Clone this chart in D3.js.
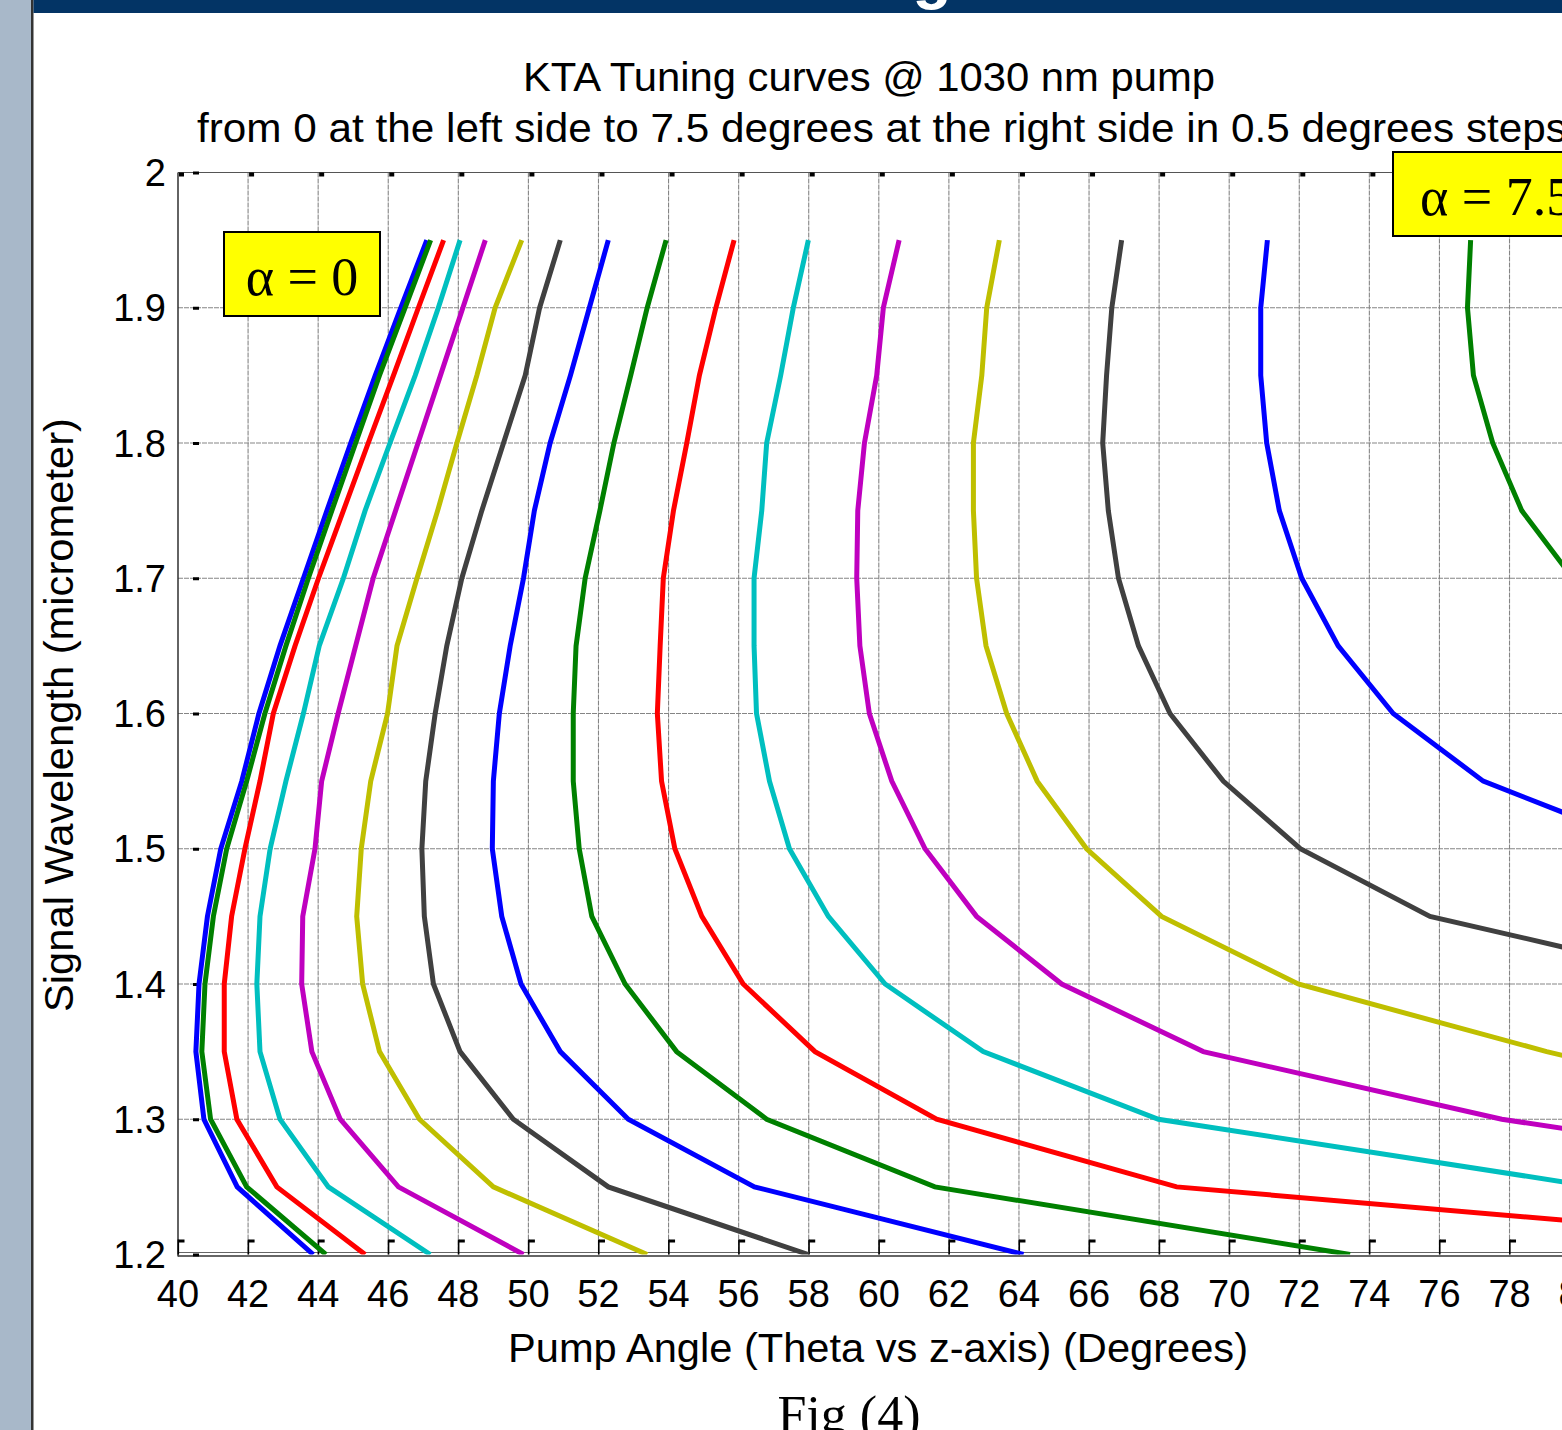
<!DOCTYPE html>
<html><head><meta charset="utf-8">
<script src="https://cdn.jsdelivr.net/npm/d3@7"></script>
<style>html,body{margin:0;padding:0;background:#fff;overflow:hidden}svg{display:block}</style>
</head><body>
<script>
// ---- data ----
const lambdaLevels = [1.95,1.90,1.85,1.80,1.75,1.70,1.65,1.60,1.55,1.50,1.45,1.40,1.35,1.30,1.25,1.20];
const alphaSteps = [0,0.5,1,1.5,2,2.5,3,3.5,4,4.5,5,5.5,6,6.5,7,7.5];
const thetaA00 = [47.10,46.36,45.63,44.93,44.25,43.58,42.91,42.31,41.82,41.22,40.84,40.60,40.51,40.74,41.69,43.86];
const thetaA05 = [47.21,46.48,45.75,45.07,44.39,43.72,43.08,42.48,41.96,41.39,41.01,40.77,40.68,40.93,41.96,44.22];
const thetaA10 = [47.58,46.86,46.15,45.43,44.72,44.01,43.34,42.72,42.34,41.91,41.53,41.32,41.32,41.68,42.82,45.34];
const thetaA15 = [48.05,47.43,46.77,46.05,45.34,44.72,44.03,43.58,43.08,42.63,42.34,42.25,42.34,42.91,44.29,47.20];
const thetaA20 = [48.77,48.13,47.49,46.85,46.21,45.57,45.07,44.57,44.10,43.91,43.56,43.53,43.82,44.63,46.29,49.86];
const thetaA25 = [49.81,49.05,48.53,47.96,47.41,46.82,46.25,45.98,45.50,45.23,45.10,45.27,45.75,46.89,49.00,53.39];
const thetaA30 = [50.91,50.32,49.91,49.29,48.67,48.10,47.67,47.34,47.07,46.96,47.03,47.29,48.05,49.57,52.28,57.99];
const thetaA35 = [52.28,51.74,51.20,50.62,50.17,49.86,49.48,49.17,49.00,48.97,49.24,49.79,50.91,52.85,56.45,64.13];
const thetaA40 = [53.93,53.39,52.92,52.44,52.04,51.62,51.36,51.28,51.28,51.45,51.81,52.76,54.23,56.80,61.60,73.45];
const thetaA45 = [55.87,55.35,54.88,54.52,54.14,53.85,53.76,53.68,53.80,54.18,54.95,56.13,58.18,61.65,68.50,90.90];
const thetaA50 = [57.99,57.56,57.20,56.80,56.66,56.44,56.44,56.51,56.88,57.45,58.56,60.18,62.98,67.98,80.45,null];
const thetaA55 = [60.58,60.13,59.94,59.59,59.40,59.37,59.46,59.73,60.37,61.32,62.79,65.22,69.26,77.78,90.60,null];
const thetaA60 = [63.44,63.08,62.94,62.70,62.70,62.79,63.06,63.65,64.52,65.93,68.07,71.97,79.06,87.30,null,null];
const thetaA65 = [66.93,66.65,66.50,66.39,66.55,66.84,67.41,68.31,69.83,72.03,75.73,84.10,null,null,null,null];
const thetaA70 = [71.09,70.90,70.90,71.07,71.43,72.07,73.11,74.68,77.25,82.17,null,null,null,null,null,null];
const thetaA75 = [76.89,76.80,76.97,77.52,78.35,79.81,null,null,null,null,null,null,null,null,null,null];
const thetaCurves = [thetaA00,thetaA05,thetaA10,thetaA15,thetaA20,thetaA25,thetaA30,thetaA35,
                     thetaA40,thetaA45,thetaA50,thetaA55,thetaA60,thetaA65,thetaA70,thetaA75];
const colorCycle = ["#0000ff","#008000","#ff0000","#00bfbf","#bf00bf","#bfbf00","#404040"];
const xTickValues = d3.range(40, 81, 2);
const yTickValues = [1.2,1.3,1.4,1.5,1.6,1.7,1.8,1.9,2.0];
const titleLine1 = "KTA Tuning curves @ 1030 nm pump";
const titleLine2 = "from 0 at the left side to 7.5 degrees at the right side in 0.5 degrees steps";
const xAxisTitle = "Pump Angle (Theta vs z-axis) (Degrees)";
const yAxisTitle = "Signal Wavelength (micrometer)";
const figCaption = "Fig (4)";
const boxLabels = ["α = 0", "α = 7.5"];

// ---- layout ----
const W = 1562, H = 1430;
const svg = d3.select("body").append("svg").attr("width", W).attr("height", H);

// slide frame
svg.append("rect").attr("x",0).attr("y",0).attr("width",31).attr("height",H).attr("fill","#a8b8c9");
svg.append("rect").attr("x",31).attr("y",0).attr("width",2.5).attr("height",H).attr("fill","#333");
svg.append("rect").attr("x",33.5).attr("y",0).attr("width",W).attr("height",13).attr("fill","#033465");
svg.append("text").attr("x",932).attr("y",-3).attr("text-anchor","middle")
  .attr("font-family","Liberation Sans, Arial, sans-serif").attr("font-size",64).attr("font-weight","bold")
  .attr("fill","#fff").text("g");

const x = d3.scaleLinear().domain([40, 80]).range([178, 178 + 40*35.04]);
const y = d3.scaleLinear().domain([1.2, 2.0]).range([1254.5, 172.5]);
const x0 = x.range()[0], x1 = x.range()[1], yTop = y(2.0), yBot = y(1.2);

svg.append("defs").append("clipPath").attr("id","plotclip")
  .append("rect").attr("x",x0).attr("y",yTop).attr("width",x1-x0).attr("height",yBot-yTop);

// grid
const grid = svg.append("g").attr("stroke","#858585").attr("stroke-width",1.1).attr("stroke-dasharray","5,1");
grid.selectAll("line.v").data(xTickValues.filter(v => v > 40)).join("line")
  .attr("x1",d=>x(d)).attr("x2",d=>x(d)).attr("y1",yTop).attr("y2",yBot);
grid.selectAll("line.h").data(yTickValues.filter(v => v > 1.2 && v < 2.0)).join("line")
  .attr("y1",d=>y(d)).attr("y2",d=>y(d)).attr("x1",x0).attr("x2",x1);

// frame
svg.append("line").attr("x1",x0).attr("x2",x1).attr("y1",yTop).attr("y2",yTop).attr("stroke","#555").attr("stroke-width",1.2);
svg.append("line").attr("x1",x0).attr("x2",x0).attr("y1",yTop).attr("y2",yBot+2).attr("stroke","#222").attr("stroke-width",1.4);
svg.append("line").attr("x1",x0).attr("x2",x1).attr("y1",yBot-2).attr("y2",yBot-2).attr("stroke","#666").attr("stroke-width",1);
svg.append("line").attr("x1",x0).attr("x2",x1).attr("y1",yBot+1.5).attr("y2",yBot+1.5).attr("stroke","#333").attr("stroke-width",1.3);

// tick marks
const ticks = svg.append("g").attr("fill","#000");
ticks.selectAll("rect.t").data(xTickValues.filter(v => v < 80)).join("rect")
  .attr("x",d=>x(d)+1).attr("y",yTop).attr("width",5).attr("height",4);
ticks.selectAll("rect.b").data(xTickValues.filter(v => v < 80)).join("rect")
  .attr("x",d=>x(d)+0.5).attr("y",yBot-15).attr("width",6).attr("height",3);
ticks.selectAll("rect.bv").data(xTickValues.filter(v => v < 80)).join("rect")
  .attr("x",d=>x(d)-0.5).attr("y",yBot-15).attr("width",1.6).attr("height",15);
ticks.selectAll("rect.l").data(yTickValues).join("rect")
  .attr("x",193).attr("y",d=>y(d)-1).attr("width",6).attr("height",3);

// curves
const line = d3.line().defined(d => d.theta != null).x(d => x(d.theta)).y(d => y(d.lambda));
const curves = svg.append("g").attr("clip-path","url(#plotclip)");
thetaCurves.forEach((arr, i) => {
  const pts = arr.map((t, j) => ({theta: t, lambda: lambdaLevels[j]}));
  curves.append("path").datum(pts).attr("d", line).attr("fill","none")
    .attr("stroke", colorCycle[i % colorCycle.length]).attr("stroke-width",5)
    .attr("stroke-linejoin","miter").attr("data-alpha", alphaSteps[i]);
});

// tick labels
const sans = "Liberation Sans, Arial, Helvetica, sans-serif";
svg.append("g").selectAll("text").data(xTickValues).join("text")
  .attr("x",d=>x(d)).attr("y",1307).attr("text-anchor","middle")
  .attr("font-family",sans).attr("font-size",38).attr("fill","#000").text(d=>d);
svg.append("g").selectAll("text").data(yTickValues).join("text")
  .attr("x",166).attr("y",d=>y(d)).attr("dy","0.36em").attr("text-anchor","end")
  .attr("font-family",sans).attr("font-size",38).attr("fill","#000").text(d=>d3.format("")(+d.toFixed(1)));

// titles
svg.append("text").attr("x",523).attr("y",91).attr("font-family",sans).attr("font-size",40)
  .attr("textLength",692).attr("lengthAdjust","spacingAndGlyphs").text(titleLine1);
svg.append("text").attr("x",197).attr("y",142).attr("font-family",sans).attr("font-size",40)
  .attr("textLength",1370).attr("lengthAdjust","spacingAndGlyphs").text(titleLine2);
svg.append("text").attr("x",508).attr("y",1362).attr("font-family",sans).attr("font-size",40)
  .attr("textLength",740).attr("lengthAdjust","spacingAndGlyphs").text(xAxisTitle);
svg.append("text").attr("transform","translate(73,715) rotate(-90)").attr("text-anchor","middle")
  .attr("font-family",sans).attr("font-size",40)
  .attr("textLength",594).attr("lengthAdjust","spacingAndGlyphs").text(yAxisTitle);
svg.append("text").attr("x",849).attr("y",1432).attr("text-anchor","middle")
  .attr("font-family","Liberation Serif, Times New Roman, serif").attr("font-size",52).text(figCaption);

// alpha boxes
const serif = "Liberation Serif, Times New Roman, serif";
const boxes = [{x:224, y:232, w:156, h:84, tx:302, anchor:"middle", label:boxLabels[0]},
               {x:1393, y:152, w:200, h:84, tx:1420, anchor:"start", label:boxLabels[1]}];
boxes.forEach(b => {
  svg.append("rect").attr("x",b.x).attr("y",b.y).attr("width",b.w).attr("height",b.h)
    .attr("fill","#ffff00").attr("stroke","#000").attr("stroke-width",2);
  svg.append("text").attr("x",b.tx).attr("y",b.y+63).attr("text-anchor",b.anchor)
    .attr("font-family",serif).attr("font-size",54).attr("fill","#000").text(b.label);
});
</script>
</body></html>
